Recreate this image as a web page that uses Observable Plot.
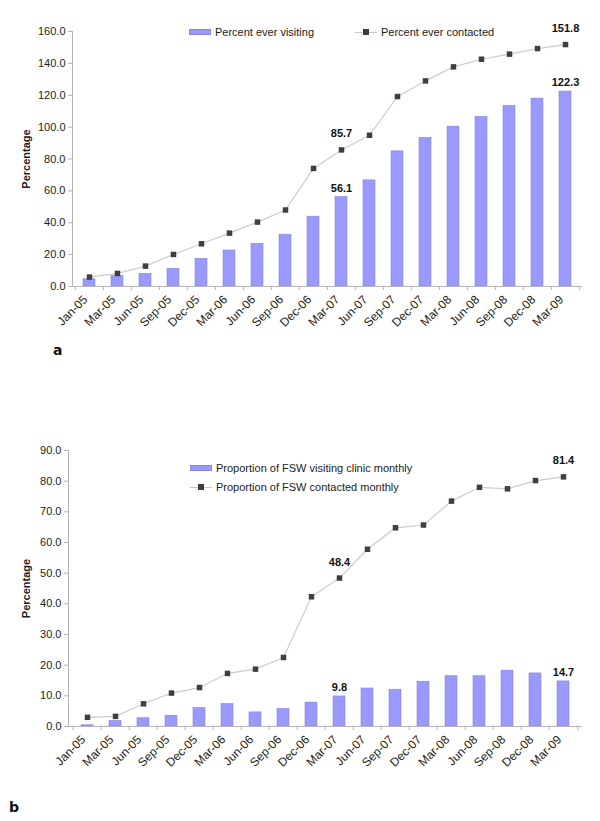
<!DOCTYPE html>
<html>
<head>
<meta charset="utf-8">
<script src="https://cdn.jsdelivr.net/npm/d3@7"></script>
<script src="https://cdn.jsdelivr.net/npm/@observablehq/plot@0.6"></script>
<style>
  html, body { margin: 0; padding: 0; background: #fff; }
  #root { position: relative; width: 600px; height: 821px; font-family: "Liberation Sans", Arial, sans-serif; color: #222; }
  .chart { position: absolute; left: 0; }
  .chart svg { font-family: "Liberation Sans", Arial, sans-serif; }
  .chart svg [aria-label="y-axis label"] text { font-weight: bold; font-size: 11px; }
  .legend { position: absolute; font-size: 11px; color: #222; display: flex; align-items: center; white-space: nowrap; }
  .sw-bar { display: inline-block; width: 22px; height: 6px; background: #9999ff; border: 0.5px solid #8585e0; box-sizing: border-box; margin-right: 4px; }
  .sw-line { position: relative; display: inline-block; width: 22px; height: 8px; margin-right: 4px; }
  .sw-line::before { content: ""; position: absolute; left: 0; right: 0; top: 3.5px; height: 1px; background: #c8c8c8; }
  .sw-line::after { content: ""; position: absolute; left: 8px; top: 1px; width: 6px; height: 6px; background: #3f3f3f; }
  .panel { position: absolute; font-family: "DejaVu Sans", sans-serif; font-weight: bold; font-size: 14px; color: #111; }
</style>
</head>
<body>
<div id="root">
  <div class="chart" id="chartA" style="top:0px"></div>
  <div class="legend" style="left:189px; top:26px;"><span class="sw-bar"></span>Percent ever visiting</div>
  <div class="legend" style="left:355px; top:26px;"><span class="sw-line"></span>Percent ever contacted</div>
  <div class="panel" style="left:53px; top:342px;">a</div>

  <div class="chart" id="chartB" style="top:420px"></div>
  <div class="legend" style="left:190px; top:462px;"><span class="sw-bar"></span>Proportion of FSW visiting clinic monthly</div>
  <div class="legend" style="left:190px; top:481px;"><span class="sw-line"></span>Proportion of FSW contacted monthly</div>
  <div class="panel" style="left:9px; top:799px;">b</div>
</div>
<script>
const categories = ["Jan-05","Mar-05","Jun-05","Sep-05","Dec-05","Mar-06","Jun-06","Sep-06","Dec-06",
  "Mar-07","Jun-07","Sep-07","Dec-07","Mar-08","Jun-08","Sep-08","Dec-08","Mar-09"];

// Panel a: cumulative
const everVisiting  = [4.5, 6.7, 7.9, 11.1, 17.4, 22.6, 26.8, 32.5, 43.8, 56.1, 66.6, 84.8, 93.2, 100.3, 106.4, 113.3, 117.9, 122.3];
const everContacted = [5.9, 8.2, 12.8, 20.1, 26.8, 33.5, 40.4, 48.0, 74.1, 85.7, 94.9, 119.2, 129.0, 137.8, 142.6, 145.8, 149.3, 151.8];

// Panel b: monthly
const monthlyVisiting  = [0.4, 1.8, 2.7, 3.5, 6.0, 7.3, 4.6, 5.7, 7.8, 9.8, 12.4, 12.0, 14.6, 16.4, 16.4, 18.2, 17.3, 14.7];
const monthlyContacted = [3.0, 3.3, 7.4, 10.9, 12.7, 17.3, 18.7, 22.5, 42.3, 48.4, 57.8, 64.8, 65.7, 73.5, 78.0, 77.5, 80.2, 81.4];

const yTicksA = [0, 20, 40, 60, 80, 100, 120, 140, 160];
const yTicksB = [0, 10, 20, 30, 40, 50, 60, 70, 80, 90];
const labelCats = ["Mar-07", "Mar-09"];

function makeChart({bars, line, yTicks, height, marginLeft, marginTop}) {
  const data = categories.map((cat, i) => ({cat, bar: bars[i], line: line[i]}));
  const labeled = data.filter(d => labelCats.includes(d.cat));
  const width = 600, marginRight = 18, marginBottom = 54;
  const step = (width - marginLeft - marginRight) / categories.length;
  const axisColor = "#b3b3b3";
  return Plot.plot({
    width, height, marginLeft, marginRight, marginTop, marginBottom,
    style: {fontSize: "11px", color: "#222", fontFamily: "Liberation Sans, Arial, sans-serif"},
    x: {domain: categories, paddingInner: 0.58, paddingOuter: 0.29},
    y: {domain: [0, yTicks[yTicks.length - 1]]},
    marks: [
      Plot.barY(data, {x: "cat", y: "bar", fill: "#9999ff", stroke: "#8585e0", strokeWidth: 0.6}),
      Plot.ruleY([0], {stroke: axisColor}),
      Plot.frame({anchor: "left", stroke: axisColor}),
      Plot.line(data, {x: "cat", y: "line", stroke: "#cccccc", strokeWidth: 1.2}),
      Plot.dot(data, {x: "cat", y: "line", symbol: "square", fill: "#3f3f3f", r: 3.1}),
      Plot.text(labeled, {x: "cat", y: "bar", text: d => d.bar.toFixed(1), dy: -9, fontWeight: "bold", fill: "#111"}),
      Plot.text(labeled, {x: "cat", y: "line", text: d => d.line.toFixed(1), dy: -16, fontWeight: "bold", fill: "#111"}),
      Plot.axisY({ticks: yTicks, tickFormat: d3.format(".1f"), tickSize: 4, tickPadding: 3,
        stroke: axisColor, fill: "#222", label: "Percentage", labelAnchor: "center", labelArrow: "none",
        labelOffset: marginLeft - 22}),
      Plot.axisX({tickSize: 0, tickRotate: -45, tickPadding: 11, dx: -4, fontSize: 12, fill: "#222", label: null}),
      Plot.axisX({tickSize: 4, tickFormat: () => "", dx: -step / 2, stroke: axisColor, label: null}),
      Plot.axisX({ticks: [categories[categories.length - 1]], tickSize: 4, tickFormat: () => "", dx: step / 2, stroke: axisColor, label: null})
    ]
  });
}

document.getElementById("chartA").append(makeChart({
  bars: everVisiting, line: everContacted, yTicks: yTicksA, height: 340, marginLeft: 72, marginTop: 31
}));
document.getElementById("chartB").append(makeChart({
  bars: monthlyVisiting, line: monthlyContacted, yTicks: yTicksB, height: 360, marginLeft: 68, marginTop: 30
}));
</script>
</body>
</html>
